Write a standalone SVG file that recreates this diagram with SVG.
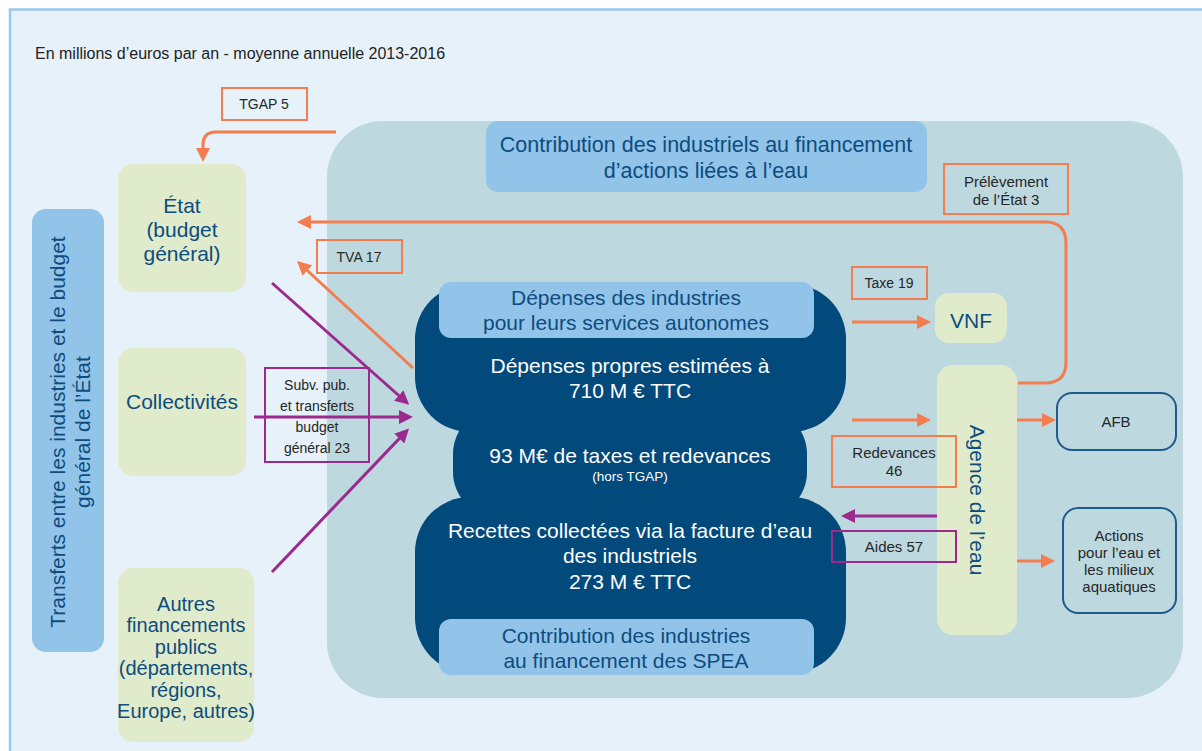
<svg xmlns="http://www.w3.org/2000/svg" width="1202" height="751" viewBox="0 0 1202 751">
<defs>
<style>
text{font-family:"Liberation Sans",Arial,sans-serif}
.node{fill:#0E4C7E;font-size:21px;text-anchor:middle}
.wh{fill:#FFFFFF;font-size:21px;text-anchor:middle}
.lbl{fill:#262626;font-size:15px;text-anchor:middle}
.sm{fill:#262626;font-size:14px;text-anchor:middle}
.green{fill:#DFEBCB}
.lblue{fill:#91C4E8}
.obox{fill:none;stroke:#F37D4E;stroke-width:2}
.pbox{fill:none;stroke:#9C2A8E;stroke-width:2}
.bbox{fill:none;stroke:#1E5A8C;stroke-width:2}
.oline{fill:none;stroke:#F37D4E;stroke-width:3}
.pline{fill:none;stroke:#9C2A8E;stroke-width:3}
</style>
<marker id="ao" markerUnits="userSpaceOnUse" markerWidth="16" markerHeight="14" refX="3" refY="7" orient="auto"><path d="M0,0 L14,7 L0,14 z" fill="#F37D4E"/></marker>
<marker id="ap" markerUnits="userSpaceOnUse" markerWidth="16" markerHeight="14" refX="3" refY="7" orient="auto"><path d="M0,0 L14,7 L0,14 z" fill="#9C2A8E"/></marker>
</defs>
<rect x="0" y="0" width="1202" height="751" fill="#FFFFFF"/>
<rect x="10" y="9.5" width="1200" height="750" fill="#E6F1F9" stroke="#95C9EC" stroke-width="2.5"/>
<text x="35" y="59" style="fill:#222;font-size:16px">En millions d’euros par an - moyenne annuelle 2013-2016</text>

<g id="panel"><rect x="327" y="121" width="856" height="577" rx="56" fill="#BED8E0"/></g>

<g id="contrib-top"><rect x="486" y="121" width="441" height="71" rx="12" class="lblue"/>
<text class="node" x="706" y="152" style="font-size:21.5px">Contribution des industriels au financement</text>
<text class="node" x="706" y="178" style="font-size:21.5px">d’actions liées à l’eau</text></g>

<g id="transferts"><rect x="32" y="209" width="72" height="443" rx="14" class="lblue"/>
<g transform="translate(0,432) rotate(-90)"><text class="node" x="0" y="65">Transferts entre les industries et le budget</text><text class="node" x="0" y="90">général de l’État</text></g></g>

<g id="etat"><rect x="118" y="164" width="128" height="128" rx="15" class="green"/>
<text class="node" x="182" y="213">État</text><text class="node" x="182" y="237">(budget</text><text class="node" x="182" y="261">général)</text></g>

<g id="collectivites"><rect x="118" y="348" width="128" height="128" rx="15" class="green"/>
<text class="node" x="182" y="409">Collectivités</text></g>

<g id="autres"><rect x="118" y="568" width="136" height="174" rx="15" class="green"/>
<g class="node" style="font-size:20px"><text x="186" y="611">Autres</text><text x="186" y="632">financements</text><text x="186" y="654">publics</text><text x="186" y="675">(départements,</text><text x="186" y="697">régions,</text><text x="186" y="718">Europe, autres)</text></g></g>

<g id="industries">
<g fill="#02497C"><rect x="415" y="284" width="431" height="148" rx="55"/><rect x="453" y="408" width="354" height="110" rx="46"/><rect x="415" y="497" width="431" height="176" rx="55"/></g>
<rect x="439" y="282" width="375" height="56" rx="12" class="lblue"/>
<text class="node" x="626" y="305">Dépenses des industries</text><text class="node" x="626" y="330">pour leurs services autonomes</text>
<text class="wh" x="630" y="373">Dépenses propres estimées à</text><text class="wh" x="630" y="398">710 M € TTC</text>
<text class="wh" x="630" y="463">93 M€ de taxes et redevances</text><text class="wh" x="630" y="481" style="font-size:13.5px">(hors TGAP)</text>
<text class="wh" x="630" y="538">Recettes collectées via la facture d’eau</text><text class="wh" x="630" y="563">des industriels</text><text class="wh" x="630" y="589">273 M € TTC</text>
<rect x="439" y="619" width="375" height="56" rx="12" class="lblue"/>
<text class="node" x="626" y="643">Contribution des industries</text><text class="node" x="626" y="668">au financement des SPEA</text></g>

<g id="vnf"><rect x="935" y="293" width="72" height="50" rx="14" class="green"/><text class="node" x="971" y="328">VNF</text></g>

<g id="agence"><rect x="937" y="365" width="80" height="270" rx="16" class="green"/>
<g transform="translate(977,500) rotate(90)"><text class="node" x="0" y="7">Agence de l’eau</text></g></g>

<g id="afb"><rect x="1057" y="393" width="119" height="57" rx="15" class="bbox"/><text class="lbl" x="1116" y="427">AFB</text></g>

<g id="actions"><rect x="1063" y="508" width="113" height="105" rx="15" class="bbox"/>
<text class="lbl" x="1119" y="541">Actions</text><text class="lbl" x="1119" y="558">pour l’eau et</text><text class="lbl" x="1119" y="575">les milieux</text><text class="lbl" x="1119" y="592">aquatiques</text></g>

<g id="connectors">
<path class="oline" d="M336,132 H216 Q203,132 203,145 V151" marker-end="url(#ao)"/>
<path class="oline" d="M1018,383 H1045 Q1066,383 1066,362 V243 Q1066,222 1045,222 H308" marker-end="url(#ao)"/>
<path class="oline" d="M413,368 L305.1,268.5" marker-end="url(#ao)"/>
<path class="oline" d="M852,322 H920" marker-end="url(#ao)"/>
<path class="oline" d="M852,420 H920" marker-end="url(#ao)"/>
<path class="oline" d="M1017,420 H1045" marker-end="url(#ao)"/>
<path class="oline" d="M1017,561 H1044" marker-end="url(#ao)"/>
<path class="pline" d="M937,516 H852" marker-end="url(#ap)"/>
<path class="pline" d="M272,283 L401,397.5" marker-end="url(#ap)"/>
<path class="pline" d="M254,417 H402" marker-end="url(#ap)"/>
<path class="pline" d="M272,572 L401.4,436.4" marker-end="url(#ap)"/>
</g>

<g id="labels">
<g id="l-tgap"><rect x="222" y="88" width="85" height="32" class="obox"/><text class="sm" x="264" y="109">TGAP 5</text></g>
<g id="l-tva"><rect x="317" y="240" width="85" height="33" class="obox"/><text class="sm" x="359" y="262">TVA 17</text></g>
<g id="l-prel"><rect x="944" y="164" width="124" height="50" class="obox"/><text class="lbl" x="1006" y="187">Prélèvement</text><text class="lbl" x="1006" y="205">de l’État 3</text></g>
<g id="l-taxe"><rect x="852" y="267" width="75" height="32" class="obox"/><text class="sm" x="889" y="288">Taxe 19</text></g>
<g id="l-redev"><rect x="832" y="436" width="124" height="51" class="obox"/><text class="lbl" x="894" y="458">Redevances</text><text class="lbl" x="894" y="476">46</text></g>
<g id="l-aides"><rect x="832" y="531" width="124" height="31" class="pbox"/><text class="lbl" x="894" y="552">Aides 57</text></g>
<g id="l-subv"><rect x="265" y="368" width="104" height="94" class="pbox"/><text class="sm" x="317" y="390">Subv. pub.</text><text class="sm" x="317" y="411">et transferts</text><text class="sm" x="317" y="432">budget</text><text class="sm" x="317" y="453">général 23</text></g>
</g>
</svg>
